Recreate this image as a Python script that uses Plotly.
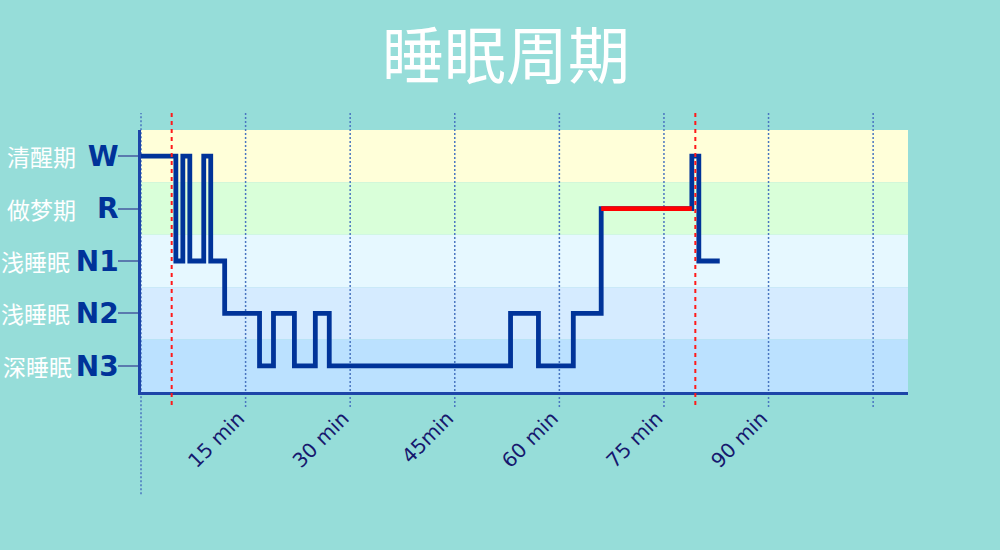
import plotly.graph_objects as go

# ---------------- data ----------------
stage_codes = ["W", "R", "N1", "N2", "N3"]
stage_values = [5, 4, 3, 2, 1]
stage_names_cn = ["清醒期", "做梦期", "浅睡眠", "浅睡眠", "深睡眠"]

hypno_minutes = [0, 5, 6, 7, 9, 10, 12, 17, 19, 22, 25, 27, 53, 57, 62, 66, 79, 80, 83]
hypno_stages = ["W", "N1", "W", "N1", "W", "N1", "N2", "N3", "N2", "N3", "N2",
                "N3", "N2", "N3", "N2", "R", "W", "N1", "N1"]

rem_minutes = [66, 79]
rem_stages = ["R", "R"]

cycle_marks = [4.4, 79.5]            # red dashed lines
grid_minutes = [0, 15, 30, 45, 60, 75, 90, 105]
tick_minutes = [15, 30, 45, 60, 75, 90]
tick_labels = ["15 min", "30 min", "45min", "60 min", "75 min", "90 min"]

x_range = [0, 110]
y_range = [0.5, 5.5]

title_text = "睡眠周期"

# ---------------- figure ----------------
code_to_val = dict(zip(stage_codes, stage_values))
band_colors = {"W": "#ffffd9", "R": "#d9ffd9", "N1": "#e6f8ff",
               "N2": "#d5ebff", "N3": "#bbe1ff"}

fig = go.Figure()

fig.add_trace(go.Scatter(
    x=hypno_minutes, y=[code_to_val[s] for s in hypno_stages],
    mode="lines", line=dict(shape="hv", color="#003399", width=4.8),
    hoverinfo="skip", showlegend=False))

fig.add_trace(go.Scatter(
    x=rem_minutes, y=[code_to_val[s] for s in rem_stages],
    mode="lines", line=dict(color="#ff0000", width=4.8),
    hoverinfo="skip", showlegend=False))

shapes = []
# stage bands
for code, val in zip(stage_codes, stage_values):
    shapes.append(dict(type="rect", xref="paper", yref="y", x0=0, x1=1,
                       y0=val - 0.5, y1=val + 0.5, fillcolor=band_colors[code],
                       line=dict(width=0), layer="below"))

def to_paper(v):
    return (v - x_range[0]) / (x_range[1] - x_range[0])

# dotted grid lines (extending beyond plot)
for m in grid_minutes:
    shapes.append(dict(type="line", xref="paper", yref="paper",
                       x0=to_paper(m), x1=to_paper(m),
                       y0=(-0.39 if m == 0 else -0.057), y1=1.065,
                       line=dict(color="#4a76c0", width=1.5, dash="2px,2px"),
                       layer="below"))
# red dashed cycle markers
for m in cycle_marks:
    shapes.append(dict(type="line", xref="paper", yref="paper",
                       x0=to_paper(m), x1=to_paper(m), y0=-0.05, y1=1.065,
                       line=dict(color="#ff1a1a", width=2, dash="4px,4px"),
                       layer="above"))

annotations = []
cn_left_px = {"W": 7, "R": 7, "N1": 1, "N2": 1, "N3": 3}
plot_left, plot_w = 141, 767
for code, val, name in zip(stage_codes, stage_values, stage_names_cn):
    annotations.append(dict(
        xref="paper", yref="y", x=(cn_left_px[code] - 2 - plot_left) / plot_w, y=val,
        xanchor="left", yanchor="middle", showarrow=False, text=name,
        font=dict(family="Noto Sans CJK SC", size=23, color="white")))

fig.update_layout(
    width=1000, height=550,
    margin=dict(l=141, r=92, t=130, b=158),
    paper_bgcolor="#96ddd9", plot_bgcolor="rgba(0,0,0,0)",
    title=dict(text=title_text, xref="container", yref="container",
               x=0.506, y=0.895, xanchor="center", yanchor="middle",
               font=dict(family="Noto Sans CJK SC", size=62, color="white")),
    shapes=shapes, annotations=annotations, showlegend=False,
    xaxis=dict(range=x_range, tickvals=tick_minutes, ticktext=tick_labels,
               tickangle=-45, showgrid=False, zeroline=False,
               showline=True, linecolor="#1d45a8", linewidth=2.5,
               ticks="outside", ticklen=4, tickcolor="rgba(0,0,0,0)",
               ticklabelshift=-7,
               tickfont=dict(family="DejaVu Sans", size=20, color="#16186e")),
    yaxis=dict(range=y_range, tickvals=stage_values, ticktext=stage_codes,
               showgrid=False, zeroline=False,
               showline=True, linecolor="#1d45a8", linewidth=2.5,
               ticks="outside", ticklen=20, tickwidth=2, tickcolor="#5a7aae",
               ticklabelstandoff=-6,
               tickfont=dict(family="DejaVu Sans", size=28, color="#003399",
                             weight="bold")),
)

fig.write_html("out.html",
               config={"displayModeBar": False},
               post_script="document.body.style.margin='0';document.body.style.background='#96ddd9';")
